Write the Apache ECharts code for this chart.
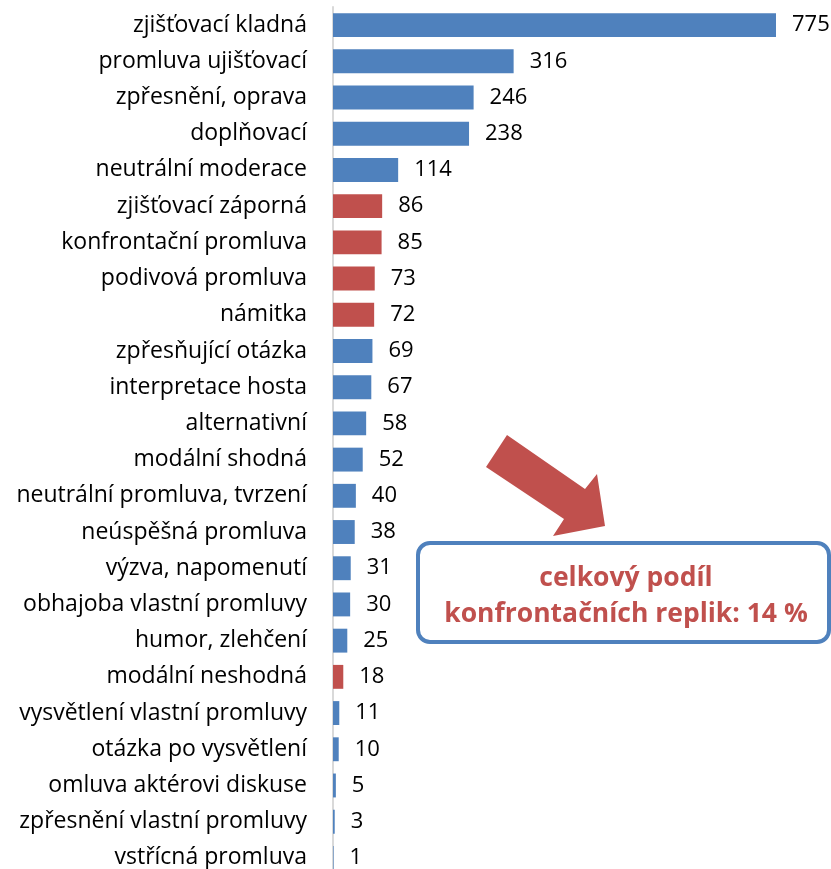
<!DOCTYPE html>
<html>
<head>
<meta charset="utf-8">
<script src="https://cdn.jsdelivr.net/npm/echarts@6/dist/echarts.min.js"></script>
<style>
html, body { margin: 0; padding: 0; background: #fff; overflow: hidden; }
/* o něco vyšší než okno, aby se poslední řádek vešel celý */
#chart1 { width: 831px; height: 880px; }
</style>
</head>
<body>
<div id="chart1"></div>
<script>
// kategorie odshora dolů
var categories = ['zjišťovací kladná', 'promluva ujišťovací', 'zpřesnění, oprava', 'doplňovací',
    'neutrální moderace', 'zjišťovací záporná', 'konfrontační promluva', 'podivová promluva',
    'námitka', 'zpřesňující otázka', 'interpretace hosta', 'alternativní', 'modální shodná',
    'neutrální promluva, tvrzení', 'neúspěšná promluva', 'výzva, napomenutí',
    'obhajoba vlastní promluvy', 'humor, zlehčení', 'modální neshodná',
    'vysvětlení vlastní promluvy', 'otázka po vysvětlení', 'omluva aktérovi diskuse',
    'zpřesnění vlastní promluvy', 'vstřícná promluva'];
var values = [775, 316, 246, 238, 114, 86, 85, 73, 72, 69, 67, 58, 52, 40, 38, 31, 30, 25, 18, 11, 10, 5, 3, 1];
// konfrontační repliky (červeně)
var confrontational = ['zjišťovací záporná', 'konfrontační promluva', 'podivová promluva', 'námitka', 'modální neshodná'];
var noteLines = ['celkový podíl', 'konfrontačních replik: 14 %'];

var BLUE = '#4f81bd', RED = '#c0504d';
var FONT = 'Open Sans';

var chart = echarts.init(document.getElementById('chart1'), null, { renderer: 'canvas' });

var option = {
    animation: false,
    grid: { left: 333, right: 55, top: 7, height: 869, containLabel: false },
    xAxis: {
        type: 'value', min: 0, max: 775, show: false
    },
    yAxis: {
        type: 'category',
        inverse: true,
        data: categories,
        axisLine: { show: true, lineStyle: { color: '#d9d9d9', width: 2 } },
        axisTick: { show: false },
        axisLabel: { margin: 26, color: '#000', fontSize: 23, fontFamily: FONT }
    },
    series: [{
        type: 'bar',
        barCategoryGap: '34%',
        data: values.map(function (v, i) {
            return {
                value: v,
                itemStyle: { color: confrontational.indexOf(categories[i]) >= 0 ? RED : BLUE }
            };
        }),
        label: {
            show: true, position: 'right', distance: 16,
            color: '#000', fontSize: 22, fontFamily: FONT
        }
    }],
    graphic: [
        {
            type: 'polygon',
            shape: { points: [[507, 435], [486, 467], [564, 519], [553, 536], [605, 526], [597, 474], [585, 489]] },
            style: { fill: RED }
        },
        {
            type: 'rect',
            shape: { x: 418, y: 543, width: 411, height: 99, r: 12 },
            style: { fill: '#fff', stroke: BLUE, lineWidth: 4 }
        },
        {
            type: 'text',
            x: 626, y: 578,
            style: { text: noteLines[0], fill: RED, font: 'bold 26.5px "' + FONT + '"', align: 'center', verticalAlign: 'middle' }
        },
        {
            type: 'text',
            x: 626, y: 614,
            style: { text: noteLines[1], fill: RED, font: 'bold 26.5px "' + FONT + '"', align: 'center', verticalAlign: 'middle' }
        }
    ]
};
chart.setOption(option);
</script>
</body>
</html>
